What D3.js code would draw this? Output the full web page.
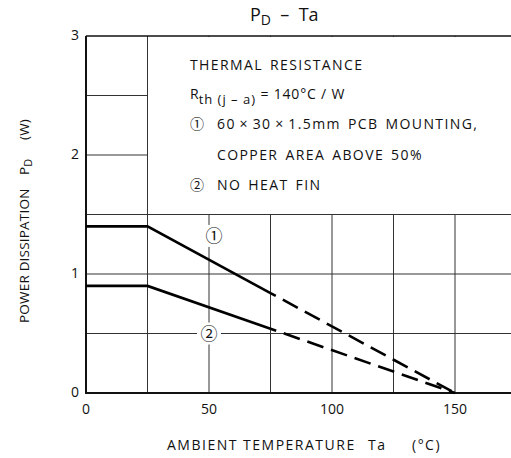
<!DOCTYPE html>
<html>
<head>
<meta charset="utf-8">
<script src="https://cdn.jsdelivr.net/npm/d3@7"></script>
<style>
  body { margin: 0; background: #fff; }
  text { font-family: "Open Sans", "DejaVu Sans", sans-serif; fill: #111; white-space: pre; }
  .circ { font-family: "Noto Sans CJK JP", "DejaVu Sans", sans-serif; }
</style>
</head>
<body>
<script>
// data
const taSolid = [0, 25, 75]
const pd1Solid = [1.4, 1.4, 0.84]
const pd2Solid = [0.9, 0.9, 0.54]
const taDash = [75, 150]
const pd1Dash = [0.84, 0]
const pd2Dash = [0.54, 0]
const xTicks = [0, 50, 100, 150]
const yTicks = [0, 1, 2, 3]
const xGrid = [25, 50, 75, 100, 125, 150, 175]
const yGrid = [0.5, 1, 1.5, 2, 2.5]

//Layout
const W = 511, H = 458
const Left = 86, Right = 516.5, Top = 36, Bottom = 393
const NoteSize = 14, NoteSpacing = 1.4

const svg = d3.select("body").append("svg")
    .attr("width", W)
    .attr("height", H)
    .attr("xmlns", "http://www.w3.org/2000/svg")

const x = d3.scaleLinear().domain([0, 175]).range([Left, Right])
const y = d3.scaleLinear().domain([0, 3]).range([Bottom, Top])

const grid = svg.append("g").attr("stroke", "#333").attr("stroke-width", 1)
for (const g of xGrid) {
    grid.append("line")
        .attr("x1", x(g)).attr("x2", x(g))
        .attr("y1", y(0)).attr("y2", y(3))
}
for (const g of yGrid) {
    grid.append("line")
        .attr("x1", x(0)).attr("x2", Right)
        .attr("y1", y(g)).attr("y2", y(g))
}

// blank panel for the notes (grid only left of 25 and below 1.5)
svg.append("rect")
    .attr("x", x(25) + 0.5)
    .attr("y", y(3) + 1)
    .attr("width", Right - x(25))
    .attr("height", y(1.5) - y(3) - 1.5)
    .attr("fill", "#fff")

// frame
svg.append("path")
    .attr("d", "M" + x(0) + "," + y(3) + "V" + y(0) + "H" + Right)
    .attr("fill", "none").attr("stroke", "#111").attr("stroke-width", 2)
svg.append("line")
    .attr("x1", x(0)).attr("x2", Right)
    .attr("y1", y(3)).attr("y2", y(3))
    .attr("stroke", "#111").attr("stroke-width", 1.5)

// curve labels with white backing
const tags = [["\u2460", 52, 1.32], ["\u2461", 50, 0.5]]
for (const [t, tx, ty] of tags) {
    svg.append("rect")
        .attr("x", x(tx) - 12).attr("y", y(ty) - 11)
        .attr("width", 24).attr("height", 22)
        .attr("fill", "#fff")
    svg.append("text")
        .attr("class", "circ")
        .attr("x", x(tx)).attr("y", y(ty) + 6)
        .attr("text-anchor", "middle")
        .attr("font-size", 17)
        .text(t)
}

const line = d3.line().x(d => x(d[0])).y(d => y(d[1]))
function drawCurve(ta, pd, dashed) {
    svg.append("path")
        .datum(ta.map((t, i) => [t, pd[i]]))
        .attr("d", line)
        .attr("fill", "none")
        .attr("stroke", "#000")
        .attr("stroke-width", 2.6)
        .attr("stroke-dasharray", dashed ? "17,8" : null)
        .attr("stroke-dashoffset", dashed ? 11 : null)
}
drawCurve(taSolid, pd1Solid, false)
drawCurve(taSolid, pd2Solid, false)
drawCurve(taDash, pd1Dash, true)
drawCurve(taDash, pd2Dash, true)

// tick labels
svg.append("g").selectAll("text").data(xTicks).join("text")
    .attr("x", d => x(d)).attr("y", 414)
    .attr("text-anchor", "middle").attr("font-size", 14)
    .text(d => d)
svg.append("g").selectAll("text").data(yTicks).join("text")
    .attr("x", 79).attr("y", d => y(d) + 4)
    .attr("text-anchor", "end").attr("font-size", 14)
    .text(d => d)

// title
const title = svg.append("text").attr("x", 250).attr("y", 21).attr("font-size", 18)
title.append("tspan").text("P")
title.append("tspan").attr("dy", 4).attr("font-size", 14).text("D")
title.append("tspan").attr("dy", -4).text("  \u2013  Ta")

// axis titles
const xt = svg.append("text").attr("y", 450).attr("font-size", 14).attr("letter-spacing", 1.5)
xt.append("tspan").attr("x", 167).text("AMBIENT TEMPERATURE")
xt.append("tspan").attr("x", 368).text("Ta")
xt.append("tspan").attr("x", 412).text("(\u00B0C)")

const yt = svg.append("text")
    .attr("transform", "translate(29,0) rotate(-90)")
    .attr("font-size", 13.5).attr("letter-spacing", 0.2)
yt.append("tspan").attr("x", -323).text("POWER DISSIPATION")
yt.append("tspan").attr("x", -175).text("P")
yt.append("tspan").attr("dy", 3).attr("font-size", 11).text("D")
yt.append("tspan").attr("x", -140).attr("dy", -3).text("(W)")

// notes
const nx = 190, nx2 = 217
function note(tx, ty, str) {
    return svg.append("text").attr("x", tx).attr("y", ty)
        .attr("font-size", NoteSize).attr("letter-spacing", NoteSpacing)
        .attr("word-spacing", 2).text(str)
}
note(nx, 70, "THERMAL RESISTANCE")
const r = svg.append("text").attr("x", nx).attr("y", 99).attr("font-size", NoteSize)
r.append("tspan").text("R")
r.append("tspan").attr("dy", 5).attr("font-size", 13).attr("letter-spacing", 1).text("th (j \u2013 a)")
r.append("tspan").attr("dy", -5).attr("letter-spacing", 0.8).text(" = 140\u00B0C / W")
svg.append("text").attr("class", "circ").attr("x", nx).attr("y", 129).attr("font-size", 14).text("\u2460")
note(nx2, 129, "60\u2009\u00D7\u200930\u2009\u00D7\u20091.5mm PCB MOUNTING,")
note(nx2, 160, "COPPER AREA ABOVE 50%")
svg.append("text").attr("class", "circ").attr("x", nx).attr("y", 190).attr("font-size", 14).text("\u2461")
note(nx2, 190, "NO HEAT FIN")
</script>
</body>
</html>
